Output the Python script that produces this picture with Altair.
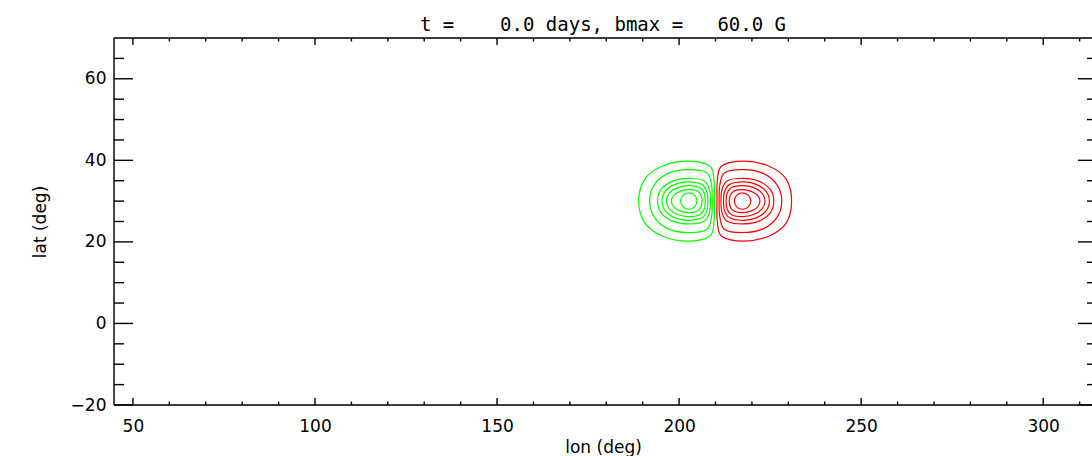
import altair as alt
import pandas as pd

TITLE = "t =    0.0 days, bmax =   60.0 G"
X_TITLE = "lon (deg)"
Y_TITLE = "lat (deg)"

LON_DOMAIN = [44.8, 313.4]
LAT_DOMAIN = [-20, 70]
X_MAJOR = [50, 100, 150, 200, 250, 300]
X_MINOR = [60, 70, 80, 90, 110, 120, 130, 140, 160, 170, 180, 190,
           210, 220, 230, 240, 260, 270, 280, 290, 310]
Y_MAJOR = [-20, 0, 20, 40, 60]
Y_MINOR = [-15, -10, -5, 5, 10, 15, 25, 30, 35, 45, 50, 55, 65]

# negative polarity (green) contours, outer to inner, (lon, lat)
GREEN_1 = [(209.7, 30.0), (209.6, 35.0), (208.4, 38.6), (202.3, 39.8), (195.5, 38.6), (190.6, 35.4),
           (188.9, 30.0), (190.6, 24.6), (195.5, 21.4), (202.3, 20.2), (208.4, 21.4), (209.6, 25.0)]
GREEN_2 = [(209.1, 30.0), (208.9, 34.0), (207.5, 37.0), (202.4, 37.7), (197.0, 36.8), (193.2, 34.0),
           (191.9, 30.0), (193.2, 26.0), (197.0, 23.2), (202.4, 22.3), (207.5, 23.0), (208.9, 26.0)]
GREEN_3 = [(208.6, 30.0), (208.3, 32.9), (206.8, 35.0), (202.5, 35.6), (198.2, 34.9), (195.0, 32.8),
           (194.1, 30.0), (195.0, 27.2), (198.2, 25.1), (202.5, 24.4), (206.8, 25.0), (208.3, 27.1)]
GREEN_4 = [(207.9, 30.0), (207.6, 32.4), (206.2, 34.1), (202.6, 34.7), (198.9, 34.1), (196.2, 32.4),
           (195.3, 30.0), (196.2, 27.6), (198.9, 25.9), (202.6, 25.3), (206.2, 25.9), (207.6, 27.6)]
GREEN_5 = [(207.2, 30.0), (206.9, 32.0), (205.6, 33.4), (202.6, 33.8), (199.6, 33.3), (197.3, 31.9),
           (196.5, 30.0), (197.3, 28.1), (199.6, 26.7), (202.6, 26.2), (205.6, 26.6), (206.9, 28.0)]
GREEN_6 = [(206.3, 30.0), (206.0, 31.5), (204.9, 32.5), (202.6, 32.8), (200.3, 32.4), (198.5, 31.4),
           (197.9, 30.0), (198.5, 28.6), (200.3, 27.6), (202.6, 27.2), (204.9, 27.5), (206.0, 28.5)]
GREEN_7 = [(204.9, 30.0), (204.3, 31.4), (202.7, 32.0), (201.1, 31.4),
           (200.4, 30.0), (201.1, 28.6), (202.7, 28.0), (204.3, 28.6)]

# positive polarity (red) contours, outer to inner, (lon, lat)
RED_1 = [(210.4, 30.0), (210.5, 35.0), (211.7, 38.6), (217.8, 39.8), (224.6, 38.6), (229.4, 35.4),
         (230.9, 30.0), (229.4, 24.6), (224.6, 21.4), (217.8, 20.2), (211.7, 21.4), (210.5, 25.0)]
RED_2 = [(211.0, 30.0), (211.2, 34.0), (212.6, 37.0), (217.7, 37.7), (223.1, 36.8), (226.9, 34.0),
         (228.2, 30.0), (226.9, 26.0), (223.1, 23.2), (217.7, 22.3), (212.6, 23.0), (211.2, 26.0)]
RED_3 = [(211.5, 30.0), (211.8, 32.9), (213.3, 35.0), (217.6, 35.6), (221.9, 34.9), (225.1, 32.8),
         (226.0, 30.0), (225.1, 27.2), (221.9, 25.1), (217.6, 24.4), (213.3, 25.0), (211.8, 27.1)]
RED_4 = [(212.2, 30.0), (212.5, 32.4), (213.9, 34.1), (217.5, 34.7), (221.2, 34.1), (223.9, 32.4),
         (224.8, 30.0), (223.9, 27.6), (221.2, 25.9), (217.5, 25.3), (213.9, 25.9), (212.5, 27.6)]
RED_5 = [(212.9, 30.0), (213.2, 32.0), (214.5, 33.4), (217.5, 33.8), (220.5, 33.3), (222.8, 31.9),
         (223.6, 30.0), (222.8, 28.1), (220.5, 26.7), (217.5, 26.2), (214.5, 26.6), (213.2, 28.0)]
RED_6 = [(213.8, 30.0), (214.1, 31.5), (215.2, 32.5), (217.5, 32.8), (219.8, 32.4), (221.6, 31.4),
         (222.2, 30.0), (221.6, 28.6), (219.8, 27.6), (217.5, 27.2), (215.2, 27.5), (214.1, 28.5)]
RED_7 = [(215.2, 30.0), (215.8, 31.4), (217.4, 32.0), (219.0, 31.4),
         (219.7, 30.0), (219.0, 28.6), (217.4, 28.0), (215.8, 28.6)]

W, H = 978, 367
FONT = "DejaVu Sans"

rows = []
for pol, rings in (("neg", [GREEN_1, GREEN_2, GREEN_3, GREEN_4, GREEN_5, GREEN_6, GREEN_7]),
                   ("pos", [RED_1, RED_2, RED_3, RED_4, RED_5, RED_6, RED_7])):
    for k, ring in enumerate(rings):
        for i, (lon, lat) in enumerate(ring):
            rows.append({"pol": pol, "ring": f"{pol}{k}", "idx": i, "lon": lon, "lat": lat})
contour_df = pd.DataFrame(rows)

xscale = alt.Scale(domain=LON_DOMAIN, nice=False, zero=False)
yscale = alt.Scale(domain=LAT_DOMAIN, nice=False, zero=False)

x_axis = alt.Axis(values=X_MAJOR, ticks=False, tickSize=0, domain=False, grid=False,
                  labelPadding=13, labelFont=FONT, labelFontSize=17, labelColor="black",
                  title=X_TITLE, titleFont=FONT, titleFontSize=17, titleFontWeight="normal",
                  titleColor="black", titleY=47, titleBaseline="alphabetic")
y_axis = alt.Axis(values=Y_MAJOR, ticks=False, tickSize=0, domain=False, grid=False,
                  labelPadding=8, labelFont=FONT, labelFontSize=17, labelColor="black",
                  title=Y_TITLE, titleFont=FONT, titleFontSize=17, titleFontWeight="normal",
                  titleColor="black", titleX=-69, titleBaseline="alphabetic")

contours = alt.Chart(contour_df).mark_line(interpolate="cardinal-closed", strokeWidth=1.2).encode(
    x=alt.X("lon:Q", scale=xscale, axis=x_axis),
    y=alt.Y("lat:Q", scale=yscale, axis=y_axis),
    color=alt.Color("pol:N", scale=alt.Scale(domain=["neg", "pos"], range=["#00ff00", "#ff0000"]),
                    legend=None),
    detail="ring:N",
    order="idx:Q",
)

xmaj = pd.DataFrame({"lon": X_MAJOR})
xmin = pd.DataFrame({"lon": X_MINOR})
ymaj = pd.DataFrame({"lat": Y_MAJOR})
ymin = pd.DataFrame({"lat": Y_MINOR})

TK = dict(color="black", strokeWidth=1.4)

def xtick(df, y0, y1):
    return alt.Chart(df).mark_rule(**TK).encode(
        x=alt.X("lon:Q", scale=xscale), y=alt.value(y0), y2=alt.value(y1))

def ytick(df, x0, x1):
    return alt.Chart(df).mark_rule(**TK).encode(
        y=alt.Y("lat:Q", scale=yscale), x=alt.value(x0), x2=alt.value(x1))

one = alt.Data(values=[{"k": 1}])
frame_left = alt.Chart(one).mark_rule(**TK).encode(x=alt.value(0), y=alt.value(0), y2=alt.value(H))
frame_top = alt.Chart(one).mark_rule(**TK).encode(y=alt.value(0), x=alt.value(0), x2=alt.value(W))
frame_bottom = alt.Chart(one).mark_rule(**TK).encode(y=alt.value(H), x=alt.value(0), x2=alt.value(W))

chart = alt.layer(
    contours,
    xtick(xmaj, H - 7, H), xtick(xmin, H - 3.5, H),
    xtick(xmaj, 0, 7), xtick(xmin, 0, 3.5),
    ytick(ymaj, 0, 19), ytick(ymin, 0, 10),
    ytick(ymaj, W - 14, W), ytick(ymin, W - 5, W),
    frame_left, frame_top, frame_bottom,
).properties(
    width=W, height=H,
    title=alt.TitleParams(text=TITLE.replace(" ", "\u00a0"), font="DejaVu Sans Mono", fontSize=19,
                          fontWeight="normal", color="black", anchor="middle",
                          baseline="alphabetic", offset=12, dy=25),
    padding={"left": 114, "top": 38, "right": 0, "bottom": 51},
    autosize=alt.AutoSizeParams(type="none"),
).configure_view(strokeWidth=0).configure(background="white")

chart.save("out.html", embed_options={"renderer": "svg", "actions": False})
